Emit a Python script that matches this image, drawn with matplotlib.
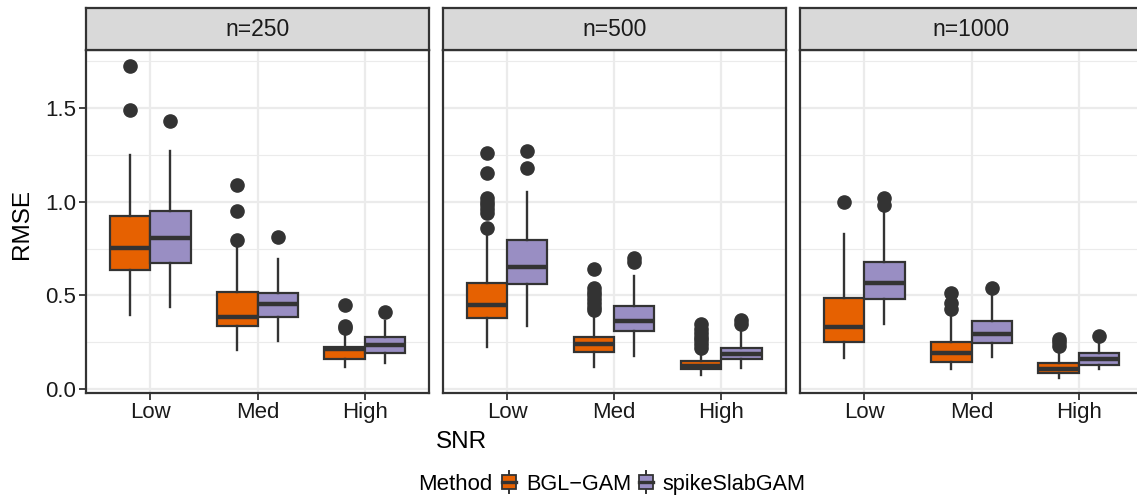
import matplotlib
matplotlib.use("Agg")
import matplotlib.pyplot as plt
from matplotlib.patches import Patch, Rectangle
from matplotlib.lines import Line2D
from matplotlib.legend_handler import HandlerBase

plt.rcParams['font.family'] = ['Liberation Sans', 'DejaVu Sans']

# data (one row per panel, columns = Low, Med, High)
panels = ["n=250", "n=500", "n=1000"]
snr = ["Low", "Med", "High"]
methods = ["BGL\u2212GAM", "spikeSlabGAM"]
colors = ["#E66101", "#998EC3"]

bgl_lo = [[0.395, 0.208, 0.116], [0.226, 0.116, 0.078], [0.164, 0.105, 0.062]]
bgl_q1 = [[0.636, 0.338, 0.159], [0.381, 0.200, 0.105], [0.249, 0.143, 0.084]]
bgl_med = [[0.755, 0.383, 0.212], [0.449, 0.239, 0.125], [0.333, 0.191, 0.110]]
bgl_q3 = [[0.926, 0.520, 0.226], [0.568, 0.280, 0.150], [0.488, 0.253, 0.137]]
bgl_hi = [[1.250, 0.761, 0.298], [0.832, 0.400, 0.190], [0.828, 0.395, 0.199]]
bgl_out = [
    [[1.726, 1.491], [1.090, 0.948, 0.793], [0.447, 0.335, 0.325]],
    [[1.260, 1.153, 1.02, 1.00, 0.98, 0.96, 0.94, 0.859],
     [0.640, 0.54, 0.52, 0.50, 0.48, 0.46, 0.44, 0.42],
     [0.345, 0.32, 0.30, 0.28, 0.26, 0.24, 0.22]],
    [[0.998], [0.511, 0.458, 0.426], [0.27, 0.25, 0.23]],
]

sp_lo = [[0.437, 0.258, 0.141], [0.337, 0.176, 0.111], [0.347, 0.173, 0.107]]
sp_q1 = [[0.672, 0.383, 0.191], [0.560, 0.312, 0.159], [0.479, 0.248, 0.128]]
sp_med = [[0.807, 0.453, 0.235], [0.650, 0.363, 0.190], [0.565, 0.292, 0.159]]
sp_q3 = [[0.948, 0.515, 0.276], [0.793, 0.445, 0.221], [0.680, 0.363, 0.191]]
sp_hi = [[1.268, 0.695, 0.363], [1.051, 0.606, 0.306], [0.966, 0.511, 0.253]]
sp_out = [
    [[1.429], [0.811], [0.413]],
    [[1.272, 1.180], [0.700, 0.680], [0.369, 0.345]],
    [[1.019, 0.980], [0.538], [0.285]],
]

W, H = 1137, 498
fig = plt.figure(figsize=(W / 100, H / 100), dpi=100)
dark = "#333333"

lefts = [86, 442.7, 800]
pw = 343
top, bot = 50.5, 392.5
strip_top = 8

def stats_for(lo, q1, med, q3, hi, out, p, j):
    return dict(whislo=lo[p][j], q1=q1[p][j], med=med[p][j], q3=q3[p][j],
                whishi=hi[p][j], fliers=out[p][j])

for p, name in enumerate(panels):
    l = lefts[p]
    ax = fig.add_axes([l / W, (H - bot) / H, pw / W, (bot - top) / H])

    for k, (lo, q1, med, q3, hi, out) in enumerate([
            (bgl_lo, bgl_q1, bgl_med, bgl_q3, bgl_hi, bgl_out),
            (sp_lo, sp_q1, sp_med, sp_q3, sp_hi, sp_out)]):
        st = [stats_for(lo, q1, med, q3, hi, out, p, j) for j in range(3)]
        pos = [j + 1 + (k - 0.5) * 0.375 for j in range(3)]
        ax.bxp(st, positions=pos, widths=0.375, patch_artist=True, showcaps=False,
               manage_ticks=False,
               boxprops=dict(facecolor=colors[k], edgecolor=dark, lw=1.6),
               medianprops=dict(color=dark, lw=3.2),
               whiskerprops=dict(color=dark, lw=1.7),
               flierprops=dict(marker="o", markerfacecolor=dark, markeredgecolor=dark,
                               markersize=9.5))

    ax.set_xlim(0.4, 3.6)
    ax.set_ylim(-0.018, 1.806)
    ax.set_yticks([0, 0.5, 1.0, 1.5])
    ax.set_yticklabels(["0.0", "0.5", "1.0", "1.5"])
    ax.set_yticks([0.25, 0.75, 1.25, 1.75], minor=True)
    ax.set_xticks([1, 2, 3])
    ax.set_xticklabels(snr)
    ax.grid(which="major", color="#EBEBEB", lw=1.6)
    ax.grid(which="minor", color="#EBEBEB", lw=0.8)
    ax.set_axisbelow(True)
    for s in ax.spines.values():
        s.set_color(dark)
        s.set_linewidth(1.6)
    ax.tick_params(axis="both", which="major", length=5, width=1.3, color=dark,
                   labelsize=16, labelcolor="#1a1a1a", pad=2)
    ax.tick_params(axis="y", which="minor", length=0)
    if p > 0:
        ax.tick_params(axis="y", left=False, labelleft=False)

    sax = fig.add_axes([l / W, (H - top) / H, pw / W, (top - strip_top) / H])
    sax.set_facecolor("#D9D9D9")
    sax.set_xticks([])
    sax.set_yticks([])
    for s in sax.spines.values():
        s.set_color(dark)
        s.set_linewidth(1.6)
    sax.text(0.5, 0.5, name, transform=sax.transAxes, ha="center", va="center",
             fontsize=16.5, color="#1a1a1a")

fig.text(22 / W, 1 - 224 / H, "RMSE", rotation=90, ha="center", va="center",
         fontsize=17.5, color="black")
fig.text(461 / W, 1 - 442 / H, "SNR", ha="center", va="center", fontsize=17.5,
         color="black")


class BoxKey(HandlerBase):
    def create_artists(self, legend, orig_handle, xdescent, ydescent, width,
                       height, fontsize, trans):
        fc = orig_handle.get_facecolor()
        x0, y0 = -xdescent, -ydescent
        cx = x0 + width / 2
        arts = [
            Line2D([cx, cx], [y0 - height * 0.15, y0 + height * 1.15], color=dark,
                   lw=1.4, transform=trans),
            Rectangle((x0, y0 + height * 0.1), width, height * 0.8, facecolor=fc,
                      edgecolor=dark, lw=1.3, transform=trans),
            Line2D([x0, x0 + width], [y0 + height / 2] * 2, color=dark, lw=2.4,
                   transform=trans),
        ]
        return arts


fig.text(418 / W, 1 - 484 / H, "Method", ha="left", va="center", fontsize=16)
handles = [Patch(facecolor=c) for c in colors]
fig.legend(handles, methods, handler_map={Patch: BoxKey()}, ncol=2,
           loc="center left", bbox_to_anchor=(502 / W, 1 - 484 / H), frameon=False,
           fontsize=15.6, handlelength=0.65, handleheight=0.85, handletextpad=0.45,
           columnspacing=0.35, borderpad=0, borderaxespad=0)

fig.savefig("out.png", dpi=100)
